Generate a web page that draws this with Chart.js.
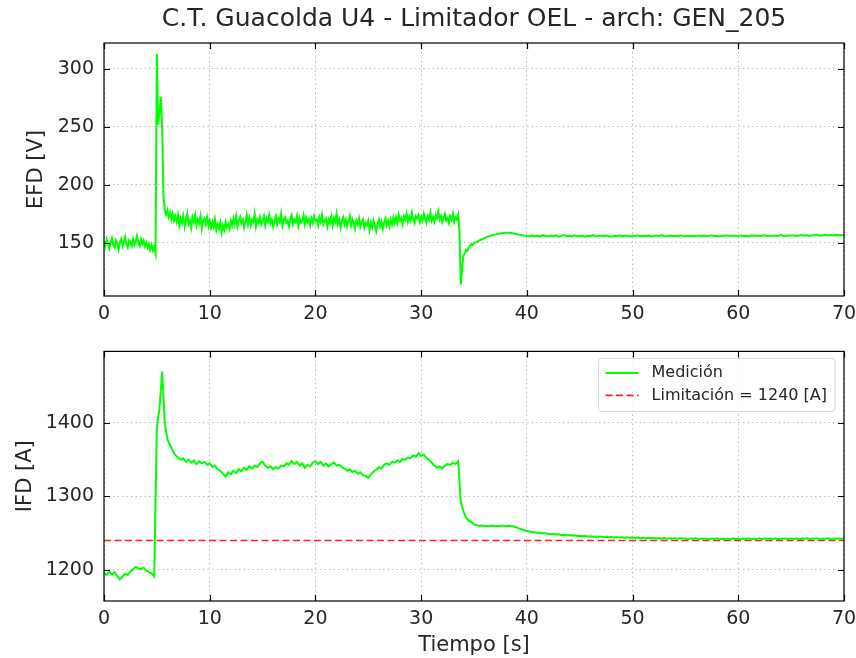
<!DOCTYPE html>
<html>
<head>
<meta charset="utf-8">
<script src="https://cdn.jsdelivr.net/npm/chart.js@4/dist/chart.umd.min.js"></script>
<style>
  body { margin: 0; background: #fff; }
  #wrap { position: relative; width: 856px; height: 658px; }
  #wrap canvas { position: absolute; left: 0; }
</style>
</head>
<body>
<div id="wrap">
  <canvas id="efd" width="856" height="330" style="top:0"></canvas>
  <canvas id="ifd" width="856" height="328" style="top:330px"></canvas>
</div>
<script>
const xTicks = [0, 10, 20, 30, 40, 50, 60, 70];
const efdTicks = [150, 200, 250, 300];
const ifdTicks = [1200, 1300, 1400];
const limitacion = 1240;

// EFD [V]: de 0 a 35 s cada 0.125 s, luego de 35.25 a 70 s cada 0.25 s
const pasoRapido = 0.125;
const pasoLento = 0.25;
const efdRapido = [
  151,147,153,149,145,150,154,148,146,152,149,144,150,153,147,151,155,149,146,152,
  150,147,153,148,151,156,150,147,153,149,152,147,150,146,149,144,148,143,146,141,
  313,252,262,276,250,190,178,174,178,172,176,
  170,175,169,173,168,174,
  165,171,167,173,164,170,175,166,169,163,172,168,174,165,170,167,173,162,169,171,166,172,164,169,
  163,168,164,170,161,166,162,167,159,165,161,168,163,166,162,169,
  165,171,166,173,164,169,172,167,170,163,168,174,166,171,165,170,
  168,175,164,170,167,172,166,169,173,165,171,168,174,167,170,164,
  169,173,166,171,168,175,165,170,172,167,169,164,171,174,166,170,
  168,173,165,171,167,169,174,166,172,168,170,165,171,167,173,169,
  170,165,172,168,174,166,169,171,164,170,167,173,165,171,168,175,166,170,163,169,
  172,166,170,164,168,173,165,170,167,162,169,166,171,164,168,170,163,167,165,169,
  161,167,163,169,165,160,166,170,164,168,162,167,171,165,169,164,170,166,172,167,
  172,167,174,169,171,166,173,170,175,168,172,169,176,170,167,173,171,174,168,172,
  169,175,171,167,173,170,176,169,172,168,174,171,177,170,173,168,172,175,169,171,
  167,173,170,175,168,172,170,174,
  160,114,128,139,141,144,143,146,147,149,148,150
];
const efdLento = [
  150.5,152,153,154,155,156,156.5,157,157.5,158,158.3,158.5,158.5,158.3,158,157.5,157,156.5,156.2,156,
  155.4,156.3,155.7,156.1,155.2,156.5,155.8,155.5,156.2,155.6,156.4,155.3,155.9,156.6,155.5,156.0,155.4,156.3,155.8,155.6,
  156.2,155.3,156.0,155.7,156.5,155.4,155.9,156.1,155.5,156.3,155.6,155.2,156.0,155.8,156.4,155.5,156.1,155.7,155.3,156.2,
  155.8,156.4,155.5,156.0,155.7,156.3,155.4,155.9,156.2,155.6,156.5,155.8,155.3,156.1,155.7,156.0,155.5,156.4,155.9,155.6,
  156.2,155.4,156.0,155.8,156.3,155.5,156.1,155.7,155.9,156.4,155.6,156.0,155.4,156.2,155.8,156.5,155.7,155.9,156.1,155.6,
  156.3,155.8,156.0,155.5,156.4,155.9,156.2,155.7,156.0,156.5,155.8,156.1,155.6,156.3,155.9,156.6,156.0,155.8,156.4,156.1,
  156.5,155.9,156.2,156.7,156.0,156.4,155.9,156.6,156.2,156.8,156.1,156.4,156.9,156.3,156.6,156.2,156.8,156.4,156.7,156.5
];

// IFD [A]: de 0 a 70 s cada 0.25 s
const pasoIfd = 0.25;
const ifd = [
  1196,1193,1198,1194,1197,1192,1187,1191,1195,1193,1198,1201,1204,1202,1201,1203,1199,1197,1195,1191,
  1395,1420,1470,1400,1378,1370,1362,1356,1353,1350,
  1352,1347,1350,1346,1349,1344,1348,1345,1347,1343,1345,
  1340,1342,1337,1335,1331,1327,1333,1330,
  1335,1332,1337,1334,1339,1336,1341,1338,1342,1340,1345,1347,
  1342,1339,1341,1337,1340,1338,1342,1341,
  1345,1343,1348,1344,1347,1342,1345,1339,1343,1341,1346,1348,
  1344,1347,1342,1345,1341,1344,1346,1342,1343,1340,
  1338,1335,1337,1333,1335,1331,1333,1329,1328,1325,
  1330,1334,1336,1340,1338,1343,1345,1343,1347,1346,1349,1347,1351,1350,1353,1352,1356,1354,1359,1355,
  1357,1352,1350,1346,1342,1339,1341,1338,1342,1344,1343,1346,1344,1348,
  1292,1280,1271,1267,1265,1262,1261,1260,1260.5,1259.5,1260,1259.6,1260.3,1259.4,1260.1,
  1259.7,1260.4,1259.5,1260,1259.6,1259,1258,1256.5,1255.3,1254,1253,
  1252.4,1251.6,1251.3,1250.5,1250.7,1249.8,1249.9,1249.2,1248.6,1248.9,1248.1,1248.4,1247.6,1247.9,1247.2,1247.5,1246.8,1246.9,1246.3,1246.5,
  1245.8,1246.2,1245.5,1245.9,1245.3,1245.6,1244.9,1245.4,1244.7,1245.1,1244.5,1244.9,1244.2,1244.7,1244.1,1244.5,1243.8,1244.3,1243.9,1244.0,
  1243.4,1244.0,1243.2,1243.7,1242.9,1243.6,1243.1,1243.5,1242.7,1243.4,1242.9,1243.3,1242.5,1243.2,1242.8,1243.1,1242.4,1243.0,1242.6,1242.9,
  1242.2,1242.9,1242.4,1243.0,1241.9,1242.7,1242.3,1242.8,1241.8,1242.6,1242.1,1242.9,1241.7,1242.5,1242.2,1242.8,1241.9,1242.6,1242.0,1242.4,
  1241.8,1242.7,1242.1,1242.9,1241.9,1242.5,1242.2,1243.0,1241.8,1242.6,1242.3,1242.8,1242.0,1242.7,1241.9,1242.5,1242.4,1242.9,1242.1,1242.6,
  1242.2,1242.8,1241.9,1242.6,1242.3,1243.0,1242.0,1242.7,1242.4,1242.9,1242.1,1242.6,1242.5,1243.1,1242.2,1242.8,1242.4,1242.9,1242.3,1242.7
];

Chart.defaults.font.family = "'DejaVu Sans', sans-serif";
Chart.defaults.color = '#262626';
Chart.defaults.animation = false;

const efdPuntos = efdRapido.map((v, i) => ({ x: i * pasoRapido, y: v }))
  .concat(efdLento.map((v, i) => ({ x: 35 + (i + 1) * pasoLento, y: v })));
const ifdPuntos = ifd.map((v, i) => ({ x: i * pasoIfd, y: v }));

// marco negro con ticks hacia adentro en los cuatro lados
const marco = {
  id: 'marco',
  afterDraw(chart) {
    const ctx = chart.ctx;
    const a = chart.chartArea;
    const sx = chart.scales.x, sy = chart.scales.y;
    ctx.save();
    ctx.strokeStyle = '#000';
    ctx.lineWidth = 1.2;
    ctx.strokeRect(a.left, a.top, a.right - a.left, a.bottom - a.top);
    ctx.beginPath();
    sx.ticks.forEach(t => {
      const px = Math.round(sx.getPixelForValue(t.value)) + 0.5;
      ctx.moveTo(px, a.bottom); ctx.lineTo(px, a.bottom - 6);
      ctx.moveTo(px, a.top); ctx.lineTo(px, a.top + 6);
    });
    sy.ticks.forEach(t => {
      const py = Math.round(sy.getPixelForValue(t.value)) + 0.5;
      ctx.moveTo(a.left, py); ctx.lineTo(a.left + 6, py);
      ctx.moveTo(a.right, py); ctx.lineTo(a.right - 6, py);
    });
    ctx.stroke();
    ctx.restore();
  }
};

// leyenda con caja redondeada, estilo matplotlib
const leyendaCaja = {
  id: 'leyendaCaja',
  afterDraw(chart) {
    const ctx = chart.ctx, a = chart.chartArea;
    const sets = chart.data.datasets;
    ctx.save();
    ctx.font = "16px 'DejaVu Sans'";
    const anchoTexto = Math.max(...sets.map(d => ctx.measureText(d.label).width));
    const w = 53 + anchoTexto + 8;
    const h = 53;
    const x0 = a.right - 9 - w, y0 = a.top + 7;
    ctx.beginPath();
    ctx.roundRect(x0, y0, w, h, 3);
    ctx.fillStyle = 'rgba(255,255,255,0.8)';
    ctx.fill();
    ctx.strokeStyle = '#d4d4d4';
    ctx.lineWidth = 1;
    ctx.stroke();
    sets.forEach((d, i) => {
      const y = y0 + 14.5 + i * 22.5;
      ctx.beginPath();
      ctx.setLineDash(d.borderDash || []);
      ctx.strokeStyle = d.borderColor;
      ctx.lineWidth = d.borderWidth;
      ctx.moveTo(x0 + 7, y);
      ctx.lineTo(x0 + 40, y);
      ctx.stroke();
      ctx.setLineDash([]);
      ctx.fillStyle = '#262626';
      ctx.textBaseline = 'middle';
      ctx.fillText(d.label, x0 + 53, y);
    });
    ctx.restore();
  }
};

function ejeX(alto, titulo) {
  return {
    type: 'linear', min: 0, max: 70,
    afterBuildTicks: s => { s.ticks = xTicks.map(v => ({ value: v })); },
    afterFit: s => { s.height = alto; s.paddingLeft = 0; s.paddingRight = 0; },
    ticks: { padding: 7, font: { size: 19 }, maxRotation: 0, callback: v => String(v) },
    grid: { color: '#bdbdbd', lineWidth: 1, drawTicks: false },
    border: { display: false, dash: [1.5, 3] },
    title: titulo ? { display: true, text: titulo, font: { size: 21 }, padding: { top: 2, bottom: 0 } } : { display: false }
  };
}

function ejeY(min, max, ticks, ancho, titulo) {
  return {
    min: min, max: max,
    afterBuildTicks: s => { s.ticks = ticks.map(v => ({ value: v })); },
    afterFit: s => { s.width = ancho; },
    ticks: { padding: 10, font: { size: 19 }, callback: v => String(v) },
    grid: { color: '#bdbdbd', lineWidth: 1, drawTicks: false },
    border: { display: false, dash: [1.5, 3] },
    title: { display: true, text: titulo, font: { size: 21 }, padding: { top: 0, bottom: 0 } }
  };
}

new Chart(document.getElementById('efd'), {
  type: 'line',
  data: {
    datasets: [{
      label: 'EFD',
      data: efdPuntos,
      borderColor: '#00ff00',
      borderWidth: 2,
      pointRadius: 0,
      tension: 0
    }]
  },
  options: {
    responsive: false,
    layout: { padding: { top: 0, right: 12, bottom: 0, left: 24 } },
    plugins: {
      legend: { display: false },
      tooltip: { enabled: false },
      title: {
        display: true,
        fullSize: false,
        text: 'C.T. Guacolda U4 - Limitador OEL - arch: GEN_205',
        font: { size: 25, weight: 'normal' },
        padding: { top: 4, bottom: 9 }
      }
    },
    scales: {
      x: ejeX(34, null),
      y: ejeY(104, 322.4, efdTicks, 80, 'EFD [V]')
    }
  },
  plugins: [marco]
});

new Chart(document.getElementById('ifd'), {
  type: 'line',
  data: {
    datasets: [{
      label: 'Medición',
      data: ifdPuntos,
      borderColor: '#00ff00',
      borderWidth: 2,
      pointRadius: 0,
      tension: 0
    }, {
      label: 'Limitación = ' + limitacion + ' [A]',
      data: [{ x: 0, y: limitacion }, { x: 70, y: limitacion }],
      borderColor: '#ff2020',
      borderWidth: 1.6,
      borderDash: [7, 3.5],
      pointRadius: 0
    }]
  },
  options: {
    responsive: false,
    layout: { padding: { top: 18, right: 12, bottom: 0, left: 13 } },
    plugins: {
      legend: { display: false },
      tooltip: { enabled: false }
    },
    scales: {
      x: ejeX(57, 'Tiempo [s]'),
      y: ejeY(1157.7, 1497.4, ifdTicks, 91, 'IFD [A]')
    }
  },
  plugins: [marco, leyendaCaja]
});
</script>
</body>
</html>
